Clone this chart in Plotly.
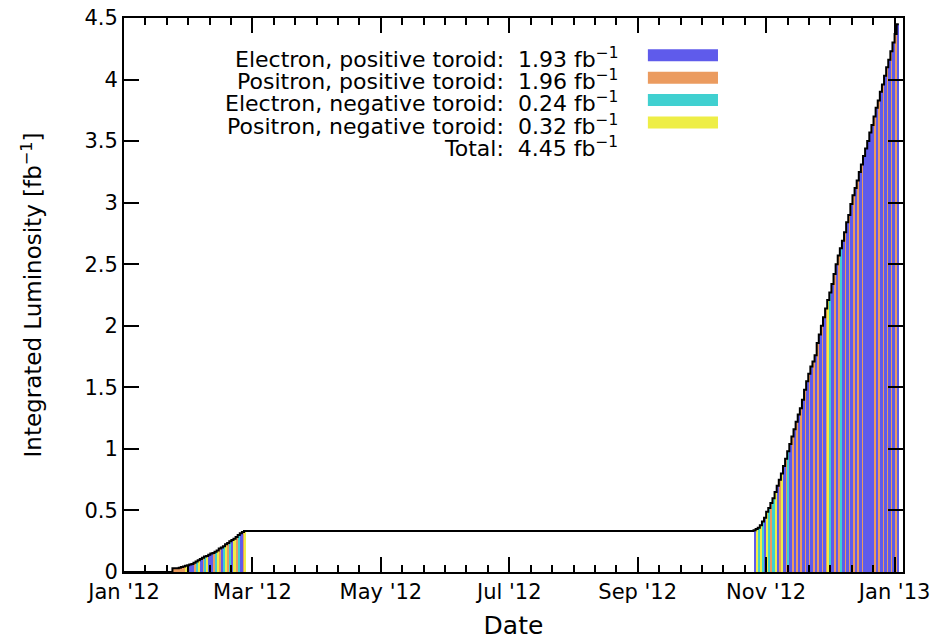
import pandas as pd
import plotly.graph_objects as go

# ---------------- data ----------------
# run type codes: B = electron/positive toroid, O = positron/positive toroid,
#                 C = electron/negative toroid, Y = positron/negative toroid
type_names = {
    "B": "Electron, positive toroid",
    "O": "Positron, positive toroid",
    "C": "Electron, negative toroid",
    "Y": "Positron, negative toroid",
}
type_colors = {"B": "#5F5BEB", "O": "#EB9B5F", "C": "#40D0D0", "Y": "#EEEE46"}
legend_order = ["B", "O", "C", "Y"]
legend_values = [1.93, 1.96, 0.24, 0.32]
total_value = 4.45

start_date = "2012-01-01"
start_lumi = 0.0

# run 1 (daily cumulative integrated luminosity, fb^-1)
run1_start = "2012-01-24"
run1_lumi = [0.03, 0.03, 0.03, 0.035, 0.04, 0.045, 0.05, 0.055, 0.06, 0.065,
             0.075, 0.085, 0.095, 0.105, 0.115, 0.125, 0.13, 0.14, 0.15, 0.155,
             0.165, 0.175, 0.19, 0.20, 0.21, 0.225, 0.235, 0.25, 0.26, 0.27,
             0.285, 0.30, 0.315, 0.325, 0.333]
run1_type = "OOOOOO" "YCBBOCYBOCYBBOCYOBCYOCBYOCBOY"

# run 2
run2_start = "2012-10-26"
run2_lumi = [0.34, 0.35, 0.36, 0.38, 0.41, 0.44, 0.49, 0.52, 0.56, 0.60, 0.65, 0.70,
             0.75, 0.80, 0.86, 0.92, 0.98, 1.04, 1.10, 1.16, 1.22, 1.28,
             1.33, 1.40, 1.48, 1.55, 1.61, 1.67, 1.71, 1.76, 1.86, 1.93,
             2.00, 2.07, 2.14, 2.21, 2.27, 2.34, 2.42, 2.50, 2.57, 2.63,
             2.69, 2.76, 2.84, 2.90, 2.99, 3.06, 3.12, 3.18, 3.25, 3.31,
             3.38, 3.44, 3.50, 3.57, 3.63, 3.70, 3.77, 3.83, 3.90, 3.96,
             4.03, 4.10, 4.16, 4.23, 4.30, 4.37, 4.45]
run2_type = ("BYCYCBYCOCYB" "OYBOCB" "OBOBOBOBOBOBOBOB" "OYC" "BOBO" "C"
             "BOBOBOBOBOB" "BBBB" "OBOBOBOBOBOB")

x_tick_format = "%b '%y"
x_range = ["2012-01-01", "2013-01-05"]
y_range = [0, 4.5]

# ---------------- build ----------------
DAY = 86400000
run1_dates = pd.date_range(run1_start, periods=len(run1_lumi), freq="D")
run2_dates = pd.date_range(run2_start, periods=len(run2_lumi), freq="D")
dates = list(run1_dates) + list(run2_dates)
lumi = run1_lumi + run2_lumi
types = list(run1_type) + list(run2_type)
assert len(run1_type) == len(run1_lumi) and len(run2_type) == len(run2_lumi)

# drawing order / bar widths (gnuplot impulses overlap: blue ones look wider)
draw_order = ["O", "B", "C", "Y"]
bar_width_days = {"O": 1.0, "B": 1.3, "C": 1.0, "Y": 1.0}

fig = go.Figure()
for code in draw_order:
    xs = [d for d, t in zip(dates, types) if t == code]
    ys = [v for v, t in zip(lumi, types) if t == code]
    fig.add_trace(go.Bar(
        x=xs, y=ys, name=type_names[code], width=bar_width_days[code] * DAY, offset=0,
        marker=dict(color=type_colors[code], line=dict(width=0)),
        hoverinfo="x+y",
    ))

line_x = [pd.Timestamp(start_date)] + dates + [dates[-1] + pd.Timedelta(days=1)]
line_y = [start_lumi] + lumi + [lumi[-1]]
fig.add_trace(go.Scatter(x=line_x, y=line_y, mode="lines",
                         line=dict(color="black", width=2, shape="hv"),
                         hoverinfo="skip"))

# legend built as text + swatches (gnuplot style: text left, swatch right)
leg_text_x = 0.637
sw_x0, sw_x1 = 0.6725, 0.7625
row_top = 0.9287
row_step = 0.0404
sw_half = 6 / 554
for i, code in enumerate(legend_order):
    yy = row_top - i * row_step
    fig.add_annotation(xref="paper", yref="paper", x=leg_text_x, y=yy,
                       xanchor="right", yanchor="middle", showarrow=False,
                       text=f"{type_names[code]}:  {legend_values[i]:.2f} fb<sup>\u22121</sup>",
                       font=dict(family="DejaVu Sans", size=22))
    fig.add_shape(type="rect", xref="paper", yref="paper",
                  x0=sw_x0, x1=sw_x1, y0=yy - sw_half + 0.004, y1=yy + sw_half + 0.004,
                  fillcolor=type_colors[code], line=dict(width=0))
fig.add_annotation(xref="paper", yref="paper", x=leg_text_x,
                   y=row_top - len(legend_order) * row_step,
                   xanchor="right", yanchor="middle", showarrow=False,
                   text=f"Total:  {total_value:.2f} fb<sup>\u22121</sup>",
                   font=dict(family="DejaVu Sans", size=22))

axis_common = dict(
    ticks="inside", ticklen=15, tickwidth=1.5, tickcolor="black",
    showline=True, linecolor="black", linewidth=2, mirror="allticks",
    showgrid=False, zeroline=False, automargin=False,
)
fig.update_xaxes(type="date", range=x_range, tick0=start_date, dtick=61 * DAY,
                 tickformat=x_tick_format,
                 minor=dict(tick0=start_date, dtick=61 * DAY / 6, ticks="inside",
                            ticklen=7, tickwidth=1.5, tickcolor="black", showgrid=False),
                 title=dict(text="Date", standoff=23),
                 **axis_common)
fig.update_yaxes(range=y_range, dtick=0.5, tick0=0,
                 title=dict(text="Integrated Luminosity [fb<sup>\u22121</sup>]",
                            standoff=36,
                            font=dict(family="DejaVu Sans", size=23, color="black")),
                 **axis_common)

fig.update_layout(
    width=941, height=640,
    margin=dict(l=124, r=38, t=18, b=68),
    plot_bgcolor="white", paper_bgcolor="white",
    showlegend=False, barmode="overlay", bargap=0,
    font=dict(family="DejaVu Sans", size=21, color="black"),
)

fig.write_html("out.html")
